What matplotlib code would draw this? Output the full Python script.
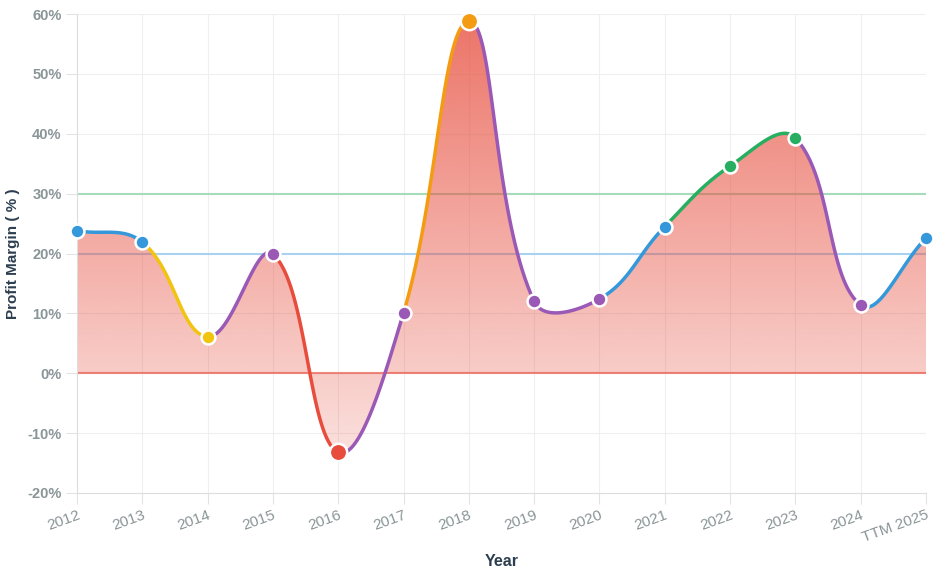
import matplotlib.pyplot as plt
import numpy as np
from matplotlib.colors import to_rgb
from matplotlib.ticker import FuncFormatter

plt.rcParams['font.family'] = ['Liberation Sans', 'DejaVu Sans']

years = ['2012', '2013', '2014', '2015', '2016', '2017', '2018', '2019',
         '2020', '2021', '2022', '2023', '2024', 'TTM 2025']
margins = [23.8, 21.9, 6.1, 19.9, -13.2, 10.1, 58.8, 12.0, 12.4, 24.5,
           34.6, 39.3, 11.4, 22.6]


def band_color(v):
    if v < 0:
        return '#e74c3c'
    if v < 10:
        return '#f1c40f'
    if v < 20:
        return '#9b59b6'
    if v < 30:
        return '#3498db'
    if v < 50:
        return '#27ae60'
    return '#f39c12'


def spline_controls(px, py, t=0.4):
    # chart.js style bezier control points, in pixel space
    n = len(px)
    c_prev, c_next = [], []
    for i in range(n):
        p0 = (px[max(i - 1, 0)], py[max(i - 1, 0)])
        p1 = (px[i], py[i])
        p2 = (px[min(i + 1, n - 1)], py[min(i + 1, n - 1)])
        d01 = np.hypot(p1[0] - p0[0], p1[1] - p0[1])
        d12 = np.hypot(p2[0] - p1[0], p2[1] - p1[1])
        tot = d01 + d12 if d01 + d12 else 1
        fa = t * d01 / tot
        fb = t * d12 / tot
        c_prev.append((p1[0] - fa * (p2[0] - p0[0]), p1[1] - fa * (p2[1] - p0[1])))
        c_next.append((p1[0] + fb * (p2[0] - p0[0]), p1[1] + fb * (p2[1] - p0[1])))
    return c_prev, c_next


XS, YS = 65.3, 5.99  # pixels per category / per percent
x = np.arange(len(years))
px = x * XS
py = np.array(margins) * YS
c_prev, c_next = spline_controls(px, py)

tt = np.linspace(0, 1, 40)[:, None]
segments = []
for i in range(len(x) - 1):
    P = np.array([(px[i], py[i]), c_next[i], c_prev[i + 1], (px[i + 1], py[i + 1])])
    B = ((1 - tt) ** 3 * P[0] + 3 * (1 - tt) ** 2 * tt * P[1]
         + 3 * (1 - tt) * tt ** 2 * P[2] + tt ** 3 * P[3])
    segments.append((B[:, 0] / XS, B[:, 1] / YS))

fig = plt.figure(figsize=(9.4, 5.77), dpi=100)
ax = fig.add_axes([77 / 940, 84 / 577, 849 / 940, 479 / 577])
ax.set_xlim(0, len(years) - 1)
ax.set_ylim(-20, 60)

ax.grid(True, color='#efefef', lw=0.8)
ax.axhline(0, color='#ee8a80', lw=1.5, zorder=1.7)
ax.axhline(20, color='#a9d2f1', lw=1.5, zorder=1.7)
ax.axhline(30, color='#a6dcb9', lw=1.5, zorder=1.7)

# gradient fill between curve and 0
cx = np.concatenate([s[0] for s in segments])
cy = np.concatenate([s[1] for s in segments])
poly_x = np.concatenate([cx, [cx[-1], cx[0]]])
poly_y = np.concatenate([cy, [0, 0]])
patch = ax.fill(poly_x, poly_y, facecolor='none', edgecolor='none')[0]
grad = np.zeros((200, 2, 4))
grad[:, :, :3] = to_rgb('#e74c3c')
grad[:, :, 3] = np.linspace(0.78, 0.12, 200)[:, None]
im = ax.imshow(grad, extent=[0, len(years) - 1, -20, 60], origin='upper',
               aspect='auto', zorder=2)
im.set_clip_path(patch)

for i, (sx, sy) in enumerate(segments):
    ax.plot(sx, sy, color=band_color(margins[i + 1]), lw=2.5, zorder=3,
            solid_capstyle='round')

for xi, v in zip(x, margins):
    big = v == max(margins) or v == min(margins)
    ax.plot(xi, v, 'o', ms=12.5 if big else 10, color=band_color(v),
            mec='white', mew=1.8, zorder=4, clip_on=False)

ax.set_xticks(x)
ax.set_xticklabels(years, rotation=20, ha='right', rotation_mode='anchor',
                   color='#8a9597', fontsize=11)
ax.set_yticks(range(-20, 61, 10))
ax.yaxis.set_major_formatter(FuncFormatter(lambda v, _: f'{v:.0f}%'))
for lab in ax.get_yticklabels():
    lab.set_color('#8a9597')
    lab.set_fontweight('bold')
    lab.set_fontsize(10.5)
ax.tick_params(axis='both', length=8, color='#e3e3e3', pad=3)
ax.tick_params(axis='x', pad=3)

for side in ['top', 'right']:
    ax.spines[side].set_visible(False)
ax.spines['left'].set_color('#dddddd')
ax.spines['bottom'].set_color('#dddddd')

ax.set_ylabel('Profit Margin ( % )', fontsize=11, fontweight='bold',
              color='#2c3e50')
ax.yaxis.set_label_coords(-57 / 849, 0.5)
ax.set_xlabel('Year', fontsize=11.5, fontweight='bold', color='#2c3e50',
              labelpad=6)

fig.savefig('out.png', dpi=100)
